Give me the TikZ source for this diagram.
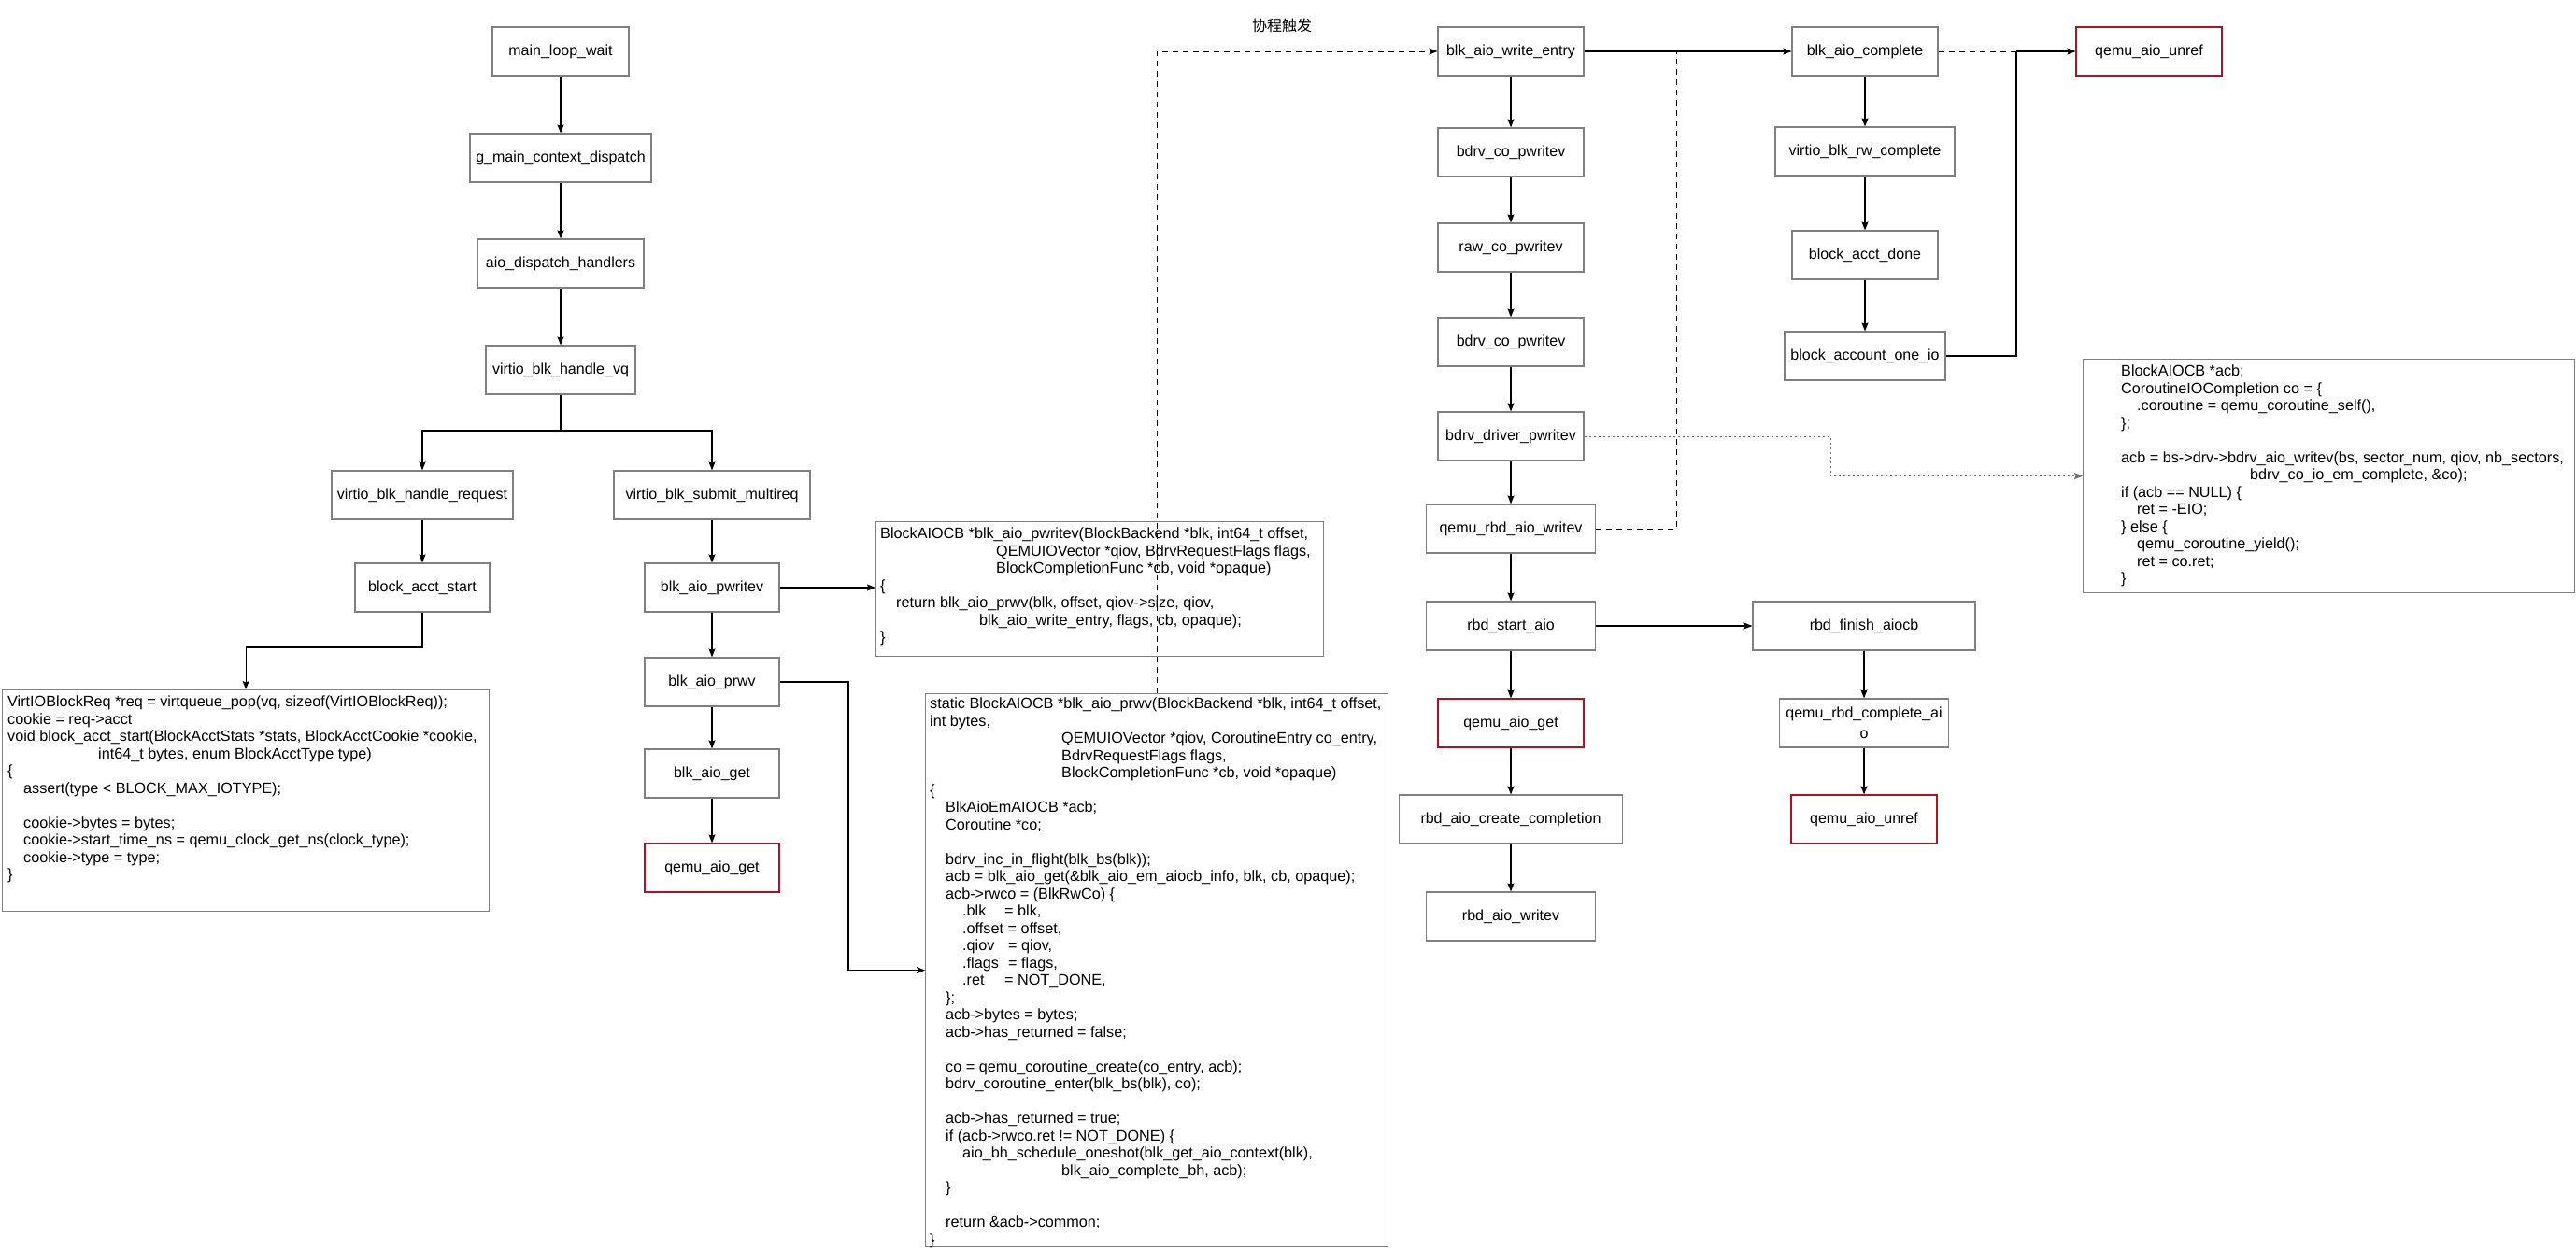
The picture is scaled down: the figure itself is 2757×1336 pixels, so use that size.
\documentclass[tikz,border=0pt]{standalone}
\usepackage{fontspec}
\setmainfont{Liberation Sans}
\newfontfamily\cjkfont{Noto Sans CJK SC}
\usetikzlibrary{arrows.meta}
\definecolor{boxgray}{RGB}{128,128,128}
\definecolor{boxred}{RGB}{178,16,36}
\definecolor{dotgray}{RGB}{110,110,110}
\begin{document}
\begin{tikzpicture}[x=1pt,y=-1pt,
  box/.style={draw=boxgray, line width=1.2pt, minimum height=52pt, inner sep=2pt, align=center, font=\fontsize{16}{19}\selectfont},
  redbox/.style={box, draw=boxred},
  codebox/.style={draw=boxgray, line width=1.2pt, inner sep=0pt, anchor=north west},
  codetext/.style={anchor=north west, align=left, inner sep=0pt, font=\fontsize{16.2}{18.5}\selectfont},
  tip/.style={-{Stealth[length=9pt,width=7pt,inset=1.5pt]}},
  conn/.style={line width=1.1pt, tip},
  plain/.style={line width=1.1pt},
  dsh/.style={line width=1pt, dash pattern=on 6pt off 5pt},
  dtt/.style={line width=1pt, dotgray, dash pattern=on 2pt off 3pt},
]
\fill[white] (0,0) rectangle (2757,1336);
\useasboundingbox (0,0) rectangle (2757,1336);

% left column
\node[box, minimum width=146pt] (mlw) at (600,55) {main\_loop\_wait};
\node[box, minimum width=194pt] (gmcd) at (600,169) {g\_main\_context\_dispatch};
\node[box, minimum width=178pt] (adh) at (600,282) {aio\_dispatch\_handlers};
\node[box, minimum width=160pt] (vq) at (600,396) {virtio\_blk\_handle\_vq};
\node[box, minimum width=194pt] (req) at (452,530) {virtio\_blk\_handle\_request};
\node[box, minimum width=210pt] (multi) at (762,530) {virtio\_blk\_submit\_multireq};
\node[box, minimum width=144pt] (bas) at (452,629) {block\_acct\_start};
\node[box, minimum width=144pt] (pwritev) at (762,629) {blk\_aio\_pwritev};
\node[box, minimum width=144pt] (prwv) at (762,730) {blk\_aio\_prwv};
\node[box, minimum width=144pt] (get) at (762,828) {blk\_aio\_get};
\node[redbox, minimum width=144pt] (qget1) at (762,929) {qemu\_aio\_get};

% code boxes
\node[codebox, minimum width=521pt, minimum height=237pt] (code1) at (2,738) {};
\node[codetext] (code1t) at ([xshift=6pt,yshift=-7pt]code1.north west) {%
VirtIOBlockReq *req = virtqueue\_pop(vq, sizeof(VirtIOBlockReq));\\
cookie = req->acct\\
void block\_acct\_start(BlockAcctStats *stats, BlockAcctCookie *cookie,\\
\hspace*{97pt}int64\_t bytes, enum BlockAcctType type)\\
\{\\
\hspace*{17pt}assert(type < BLOCK\_MAX\_IOTYPE);\\
~\\
\hspace*{17pt}cookie->bytes = bytes;\\
\hspace*{17pt}cookie->start\_time\_ns = qemu\_clock\_get\_ns(clock\_type);\\
\hspace*{17pt}cookie->type = type;\\
\}};

\node[codebox, minimum width=479pt, minimum height=144pt] (pwcode) at (937,558) {};
\node[codetext] (pwcodet) at ([xshift=5pt,yshift=-7pt]pwcode.north west) {%
BlockAIOCB *blk\_aio\_pwritev(BlockBackend *blk, int64\_t offset,\\
\hspace*{124pt}QEMUIOVector *qiov, BdrvRequestFlags flags,\\
\hspace*{124pt}BlockCompletionFunc *cb, void *opaque)\\
\{\\
\hspace*{17pt}return blk\_aio\_prwv(blk, offset, qiov->size, qiov,\\
\hspace*{106pt}blk\_aio\_write\_entry, flags, cb, opaque);\\
\}};

\node[codebox, minimum width=495pt, minimum height=592pt] (prwvcode) at (990,742) {};
\node[codetext] (prwvcodet) at ([xshift=5pt,yshift=-5pt]prwvcode.north west) {%
static BlockAIOCB *blk\_aio\_prwv(BlockBackend *blk, int64\_t offset,\\
int bytes,\\
\hspace*{141pt}QEMUIOVector *qiov, CoroutineEntry co\_entry,\\
\hspace*{141pt}BdrvRequestFlags flags,\\
\hspace*{141pt}BlockCompletionFunc *cb, void *opaque)\\
\{\\
\hspace*{17pt}BlkAioEmAIOCB *acb;\\
\hspace*{17pt}Coroutine *co;\\
~\\
\hspace*{17pt}bdrv\_inc\_in\_flight(blk\_bs(blk));\\
\hspace*{17pt}acb = blk\_aio\_get(\&blk\_aio\_em\_aiocb\_info, blk, cb, opaque);\\
\hspace*{17pt}acb->rwco = (BlkRwCo) \{\\
\hspace*{35pt}\makebox[45pt][l]{.blk}= blk,\\
\hspace*{35pt}.offset = offset,\\
\hspace*{35pt}\makebox[49pt][l]{.qiov}= qiov,\\
\hspace*{35pt}\makebox[49pt][l]{.flags}= flags,\\
\hspace*{35pt}\makebox[45pt][l]{.ret}= NOT\_DONE,\\
\hspace*{17pt}\};\\
\hspace*{17pt}acb->bytes = bytes;\\
\hspace*{17pt}acb->has\_returned = false;\\
~\\
\hspace*{17pt}co = qemu\_coroutine\_create(co\_entry, acb);\\
\hspace*{17pt}bdrv\_coroutine\_enter(blk\_bs(blk), co);\\
~\\
\hspace*{17pt}acb->has\_returned = true;\\
\hspace*{17pt}if (acb->rwco.ret != NOT\_DONE) \{\\
\hspace*{35pt}aio\_bh\_schedule\_oneshot(blk\_get\_aio\_context(blk),\\
\hspace*{141pt}blk\_aio\_complete\_bh, acb);\\
\hspace*{17pt}\}\\
~\\
\hspace*{17pt}return \&acb->common;\\
\}};

\node[codebox, minimum width=526pt, minimum height=250pt] (code3) at (2229,384) {};
\node[codetext] (code3t) at ([xshift=41pt,yshift=-7pt]code3.north west) {%
BlockAIOCB *acb;\\
CoroutineIOCompletion co = \{\\
\hspace*{17pt}.coroutine = qemu\_coroutine\_self(),\\
\};\\
~\\
acb = bs->drv->bdrv\_aio\_writev(bs, sector\_num, qiov, nb\_sectors,\\
\hspace*{138pt}bdrv\_co\_io\_em\_complete, \&co);\\
if (acb == NULL) \{\\
\hspace*{17pt}ret = -EIO;\\
\} else \{\\
\hspace*{17pt}qemu\_coroutine\_yield();\\
\hspace*{17pt}ret = co.ret;\\
\}};

% middle column
\node[box, minimum width=156pt] (bawe) at (1617,55) {blk\_aio\_write\_entry};
\node[box, minimum width=156pt] (bcp1) at (1617,163) {bdrv\_co\_pwritev};
\node[box, minimum width=156pt] (raw) at (1617,265) {raw\_co\_pwritev};
\node[box, minimum width=156pt] (bcp2) at (1617,366) {bdrv\_co\_pwritev};
\node[box, minimum width=156pt] (driver) at (1617,467) {bdrv\_driver\_pwritev};
\node[box, minimum width=181pt] (rbdw) at (1617,566) {qemu\_rbd\_aio\_writev};
\node[box, minimum width=181pt] (rsa) at (1617,670) {rbd\_start\_aio};
\node[redbox, minimum width=156pt] (qget2) at (1617,774) {qemu\_aio\_get};
\node[box, minimum width=239pt] (rcc) at (1617,877) {rbd\_aio\_create\_completion};
\node[box, minimum width=181pt] (rwv) at (1617,981) {rbd\_aio\_writev};
\node[box, minimum width=238pt] (rfa) at (1995,670) {rbd\_finish\_aiocb};
\node[box, minimum width=181pt, font=\fontsize{16}{22}\selectfont] (rca) at (1995,774) {qemu\_rbd\_complete\_ai\\o};
\node[redbox, minimum width=156pt] (unref2) at (1995,877) {qemu\_aio\_unref};

% right column
\node[box, minimum width=156pt] (bac) at (1996,55) {blk\_aio\_complete};
\node[box, minimum width=192pt] (vrc) at (1996,162) {virtio\_blk\_rw\_complete};
\node[box, minimum width=156pt] (bad) at (1996,273) {block\_acct\_done};
\node[box, minimum width=172pt] (baoi) at (1996,381) {block\_account\_one\_io};
\node[redbox, minimum width=156pt] (unref1) at (2300,55) {qemu\_aio\_unref};

\node[font=\cjkfont\fontsize{16}{19}\selectfont, inner sep=0pt] (lbl) at (1372,27) {协程触发};

% coordinates for bends
\coordinate (br) at (600,461);
\coordinate (bk2) at (452,693);
\coordinate (bk) at (908,730);
\coordinate (jn2) at (1794,55);
\coordinate (jn3) at (2158,55);
\coordinate (dk) at (1959,467);

% connectors left
\draw[conn] (mlw) -- (gmcd);
\draw[conn] (gmcd) -- (adh);
\draw[conn] (adh) -- (vq);
\draw[conn] (vq.south) -- (br) -| (req.north);
\draw[conn] (br) -| (multi.north);
\draw[conn] (req) -- (bas);
\draw[conn] (bas.south) -- (bk2) -| (code1.north);
\draw[conn] (multi) -- (pwritev);
\draw[conn] (pwritev) -- (prwv);
\draw[conn] (prwv) -- (get);
\draw[conn] (get) -- (qget1);
\draw[conn] (pwritev.east) -- (pwritev.east -| pwcode.west);
\draw[conn] (prwv.east) -- (bk) |- (prwvcode.west);
\draw[dsh, tip] (prwvcode.north) |- (bawe.west);

% connectors middle
\draw[conn] (bawe) -- (bcp1);
\draw[conn] (bcp1) -- (raw);
\draw[conn] (raw) -- (bcp2);
\draw[conn] (bcp2) -- (driver);
\draw[conn] (driver) -- (rbdw);
\draw[conn] (rbdw) -- (rsa);
\draw[conn] (rsa) -- (qget2);
\draw[conn] (qget2) -- (rcc);
\draw[conn] (rcc) -- (rwv);
\draw[conn] (rsa) -- (rfa);
\draw[conn] (rfa) -- (rca);
\draw[conn] (rca) -- (unref2);
\draw[dsh] (rbdw.east) -| (jn2);
\draw[dtt, tip] (driver.east) -- (dk) |- (code3.west);

% connectors right
\draw[conn] (bawe) -- (bac);
\draw[conn] (bac) -- (vrc);
\draw[conn] (vrc) -- (bad);
\draw[conn] (bad) -- (baoi);
\draw[dsh] (bac.east) -- (jn3);
\draw[conn] (jn3) -- (unref1.west);
\draw[plain] (baoi.east) -| (jn3);
\end{tikzpicture}
\end{document}
